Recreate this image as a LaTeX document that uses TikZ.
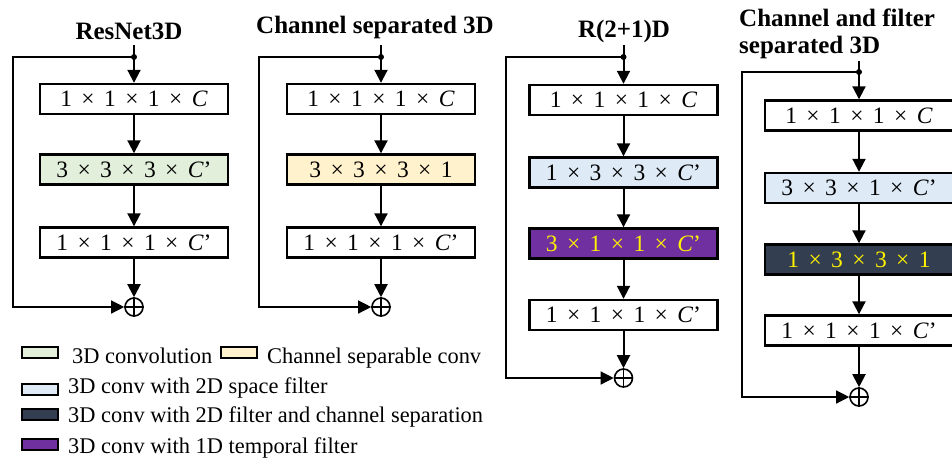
\documentclass[tikz,border=0pt]{standalone}
\usepackage{fontspec}
\setmainfont{Liberation Serif}
\usetikzlibrary{arrows.meta}
\definecolor{cgreen}{HTML}{E2EFDA}
\definecolor{cyel}{HTML}{FFF2CC}
\definecolor{cblue}{HTML}{DEEBF7}
\definecolor{cpurp}{HTML}{7030A0}
\definecolor{cnavy}{HTML}{333F50}
\definecolor{tyel}{HTML}{FFF200}
\newcommand\xx{\hspace{0.4em}×\hspace{0.4em}}
\newcommand\Cv{\textit{C}}
\tikzset{
 blk/.style={draw, line width=2.4pt, minimum width=188pt, minimum height=30pt, inner sep=0pt, font=\fontsize{23.5}{27}\selectfont},
 flow/.style={line width=2pt, -{Triangle[length=13pt,width=13pt]}},
 skip/.style={line width=1.3pt, -{Triangle[length=13pt,width=13pt]}},
 sumnode/.style={circle, draw, line width=1.6pt, minimum size=18pt, inner sep=0pt},
 dotnode/.style={circle, fill, minimum size=6pt, inner sep=0pt},
 ttl/.style={font=\fontsize{25}{29}\selectfont\bfseries, anchor=base, inner sep=0pt},
 sw/.style={draw, line width=2pt, minimum width=36pt, minimum height=11pt, inner sep=0pt},
 lgd/.style={font=\fontsize{22.4}{26}\selectfont, anchor=base west, inner sep=0pt},
 crossline/.style={line width=1.3pt},
}
\begin{document}
\begin{tikzpicture}[x=1pt,y=-1pt]
\useasboundingbox (0,0) rectangle (952,464);
\clip (0,0) rectangle (952,464);

% ---- column 1
\node[ttl] (t1) at (129,39) {ResNet3D};
\coordinate (i1) at (134,45);
\node[dotnode] (d1) at (134,57) {};
\node[blk] (a1) at (134,99) {1\xx 1\xx 1\xx\Cv};
\node[blk, fill=cgreen] (b1) at (134,169.5) {3\xx 3\xx 3\xx\Cv'};
\node[blk] (c1) at (134,242.5) {1\xx 1\xx 1\xx\Cv'};
\node[sumnode] (s1) at (134,307) {};
\draw[crossline] (s1.north) -- (s1.south) (s1.west) -- (s1.east);
\coordinate (l1) at (13,57);
\draw[flow] (i1) -- (a1);
\draw[flow] (a1) -- (b1);
\draw[flow] (b1) -- (c1);
\draw[flow] (c1) -- (s1);
\draw[skip] (d1.center) -- (l1) |- (s1);

% ---- column 2
\node[ttl] (t2) at (375,33) {Channel separated 3D};
\coordinate (i2) at (381,45);
\node[dotnode] (d2) at (381,57) {};
\node[blk] (a2) at (381,99) {1\xx 1\xx 1\xx\Cv};
\node[blk, fill=cyel] (b2) at (381,169.5) {3\xx 3\xx 3\xx 1};
\node[blk] (c2) at (381,242.5) {1\xx 1\xx 1\xx\Cv'};
\node[sumnode] (s2) at (381,307) {};
\draw[crossline] (s2.north) -- (s2.south) (s2.west) -- (s2.east);
\coordinate (l2) at (259,57);
\draw[flow] (i2) -- (a2);
\draw[flow] (a2) -- (b2);
\draw[flow] (b2) -- (c2);
\draw[flow] (c2) -- (s2);
\draw[skip] (d2.center) -- (l2) |- (s2);

% ---- column 3
\node[ttl] (t3) at (624,37) {R(2+1)D};
\coordinate (i3) at (623.5,45);
\node[dotnode] (d3) at (623.5,57) {};
\node[blk] (a3) at (623.5,100) {1\xx 1\xx 1\xx\Cv};
\node[blk, fill=cblue] (b3) at (623.5,172.5) {1\xx 3\xx 3\xx\Cv'};
\node[blk, fill=cpurp, text=tyel] (c3) at (623.5,243.5) {3\xx 1\xx 1\xx\Cv'};
\node[blk] (e3) at (623.5,315) {1\xx 1\xx 1\xx\Cv'};
\node[sumnode] (s3) at (623.5,378) {};
\draw[crossline] (s3.north) -- (s3.south) (s3.west) -- (s3.east);
\coordinate (l3) at (506,57);
\draw[flow] (i3) -- (a3);
\draw[flow] (a3) -- (b3);
\draw[flow] (b3) -- (c3);
\draw[flow] (c3) -- (e3);
\draw[flow] (e3) -- (s3);
\draw[skip] (d3.center) -- (l3) |- (s3);

% ---- column 4
\node[ttl, anchor=base west] (t4a) at (739,26) {Channel and filter};
\node[ttl, anchor=base west] (t4b) at (739,53) {separated 3D};
\coordinate (i4) at (859,61);
\node[dotnode] (d4) at (859,72) {};
\node[blk] (a4) at (859,115.5) {1\xx 1\xx 1\xx\Cv};
\node[blk, fill=cblue] (b4) at (859,188) {3\xx 3\xx 1\xx\Cv'};
\node[blk, fill=cnavy, text=tyel] (c4) at (859,259.5) {1\xx 3\xx 3\xx 1};
\node[blk] (e4) at (859,330.5) {1\xx 1\xx 1\xx\Cv'};
\node[sumnode] (s4) at (859,397) {};
\draw[crossline] (s4.north) -- (s4.south) (s4.west) -- (s4.east);
\coordinate (l4) at (742,72);
\draw[flow] (i4) -- (a4);
\draw[flow] (a4) -- (b4);
\draw[flow] (b4) -- (c4);
\draw[flow] (c4) -- (e4);
\draw[flow] (e4) -- (s4);
\draw[skip] (d4.center) -- (l4) |- (s4);

% ---- legend
\node[sw, fill=cgreen] (w1) at (40,352.5) {};
\node[lgd] (g1) at (72,363) {3D convolution};
\node[sw, fill=cyel] (w2) at (239,352.5) {};
\node[lgd] (g2) at (267,363) {Channel separable conv};
\node[sw, fill=cblue] (w3) at (40,389.5) {};
\node[lgd] (g3) at (68,393) {3D conv with 2D space filter};
\node[sw, fill=cnavy] (w4) at (40,414) {};
\node[lgd] (g4) at (68,422) {3D conv with 2D filter and channel separation};
\node[sw, fill=cpurp] (w5) at (40,444.5) {};
\node[lgd] (g5) at (68,453) {3D conv with 1D temporal filter};
\end{tikzpicture}
\end{document}
